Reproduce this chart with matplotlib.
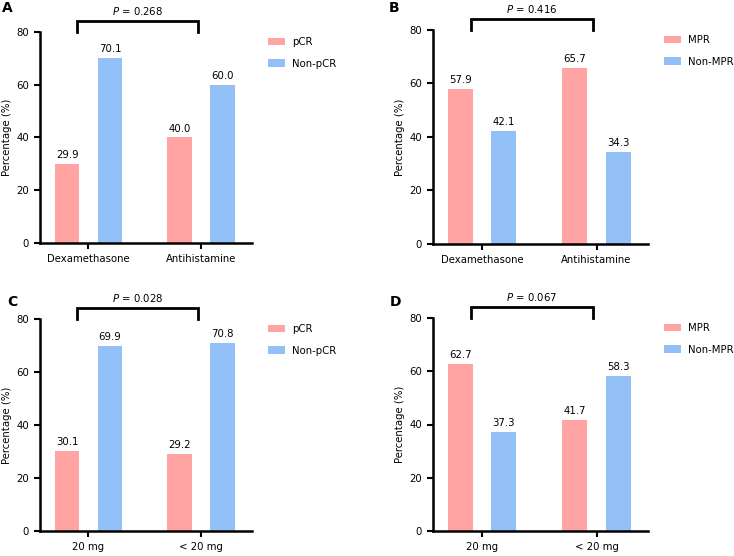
import matplotlib.pyplot as plt

groups_ab = ["Dexamethasone", "Antihistamine"]
groups_cd = ["20 mg", "< 20 mg"]

a_pos = [29.9, 40.0]
a_neg = [70.1, 60.0]
b_pos = [57.9, 65.7]
b_neg = [42.1, 34.3]
c_pos = [30.1, 29.2]
c_neg = [69.9, 70.8]
d_pos = [62.7, 41.7]
d_neg = [37.3, 58.3]

p_values = ["0.268", "0.416", "0.028", "0.067"]
names_pcr = ["pCR", "Non-pCR"]
names_mpr = ["MPR", "Non-MPR"]

pink = "#FFA3A3"
blue = "#94C0F8"
fs = 7.3

W, H = 734, 556
fig = plt.figure(figsize=(W / 100, H / 100), dpi=100)


def px_axes(left, right, top, bottom):
    return fig.add_axes([left / W, 1 - bottom / H, (right - left) / W, (bottom - top) / H])


panels = [
    ("A", (40, 252, 32, 243), groups_ab, a_pos, a_neg, names_pcr, p_values[0], (2, 8)),
    ("B", (433, 648, 30, 244), groups_ab, b_pos, b_neg, names_mpr, p_values[1], (389, 8)),
    ("C", (40, 252, 319, 531), groups_cd, c_pos, c_neg, names_pcr, p_values[2], (7, 302)),
    ("D", (433, 648, 318, 531), groups_cd, d_pos, d_neg, names_mpr, p_values[3], (390, 302)),
]

bw = 0.22
off = 0.19
for letter, box, cats, pos, neg, names, p, lab in panels:
    ax = px_axes(*box)
    x = [0, 1]
    b1 = ax.bar([i - off for i in x], pos, width=bw, color=pink, label=names[0])
    b2 = ax.bar([i + off for i in x], neg, width=bw, color=blue, label=names[1])
    for bars, vals in ((b1, pos), (b2, neg)):
        for r, v in zip(bars, vals):
            ax.text(r.get_x() + r.get_width() / 2, v + 1.5, f"{v:.1f}",
                    ha="center", va="bottom", fontsize=fs)
    ax.set_xlim(-0.43, 1.45)
    ax.set_ylim(0, 80)
    ax.set_yticks([0, 20, 40, 60, 80])
    ax.set_xticks(x)
    ax.set_xticklabels(cats)
    ax.tick_params(direction="out", length=4, width=1.5, labelsize=fs, pad=4)
    for s in ("top", "right"):
        ax.spines[s].set_visible(False)
    for s in ("left", "bottom"):
        ax.spines[s].set_linewidth(1.8)
    ax.set_ylabel("Percentage (%)", fontsize=fs, labelpad=3)
    # significance bracket
    ax.plot([-0.1, -0.1, 0.97, 0.97], [80, 84.2, 84.2, 80], color="black",
            lw=2, clip_on=False, solid_joinstyle="miter")
    ax.text(0.435, 87.8, r"$\it{P}$ = " + p, ha="center", va="center", fontsize=fs)
    ax.legend(loc="upper left", bbox_to_anchor=(1.05, 1.0), frameon=False,
              fontsize=fs, handlelength=1.7, handleheight=0.8, labelspacing=1.15,
              handletextpad=0.7, borderpad=0)
    fig.text(lab[0] / W, 1 - lab[1] / H, letter, fontsize=10, fontweight="bold",
             ha="left", va="center")

fig.savefig("out.png", dpi=100)
